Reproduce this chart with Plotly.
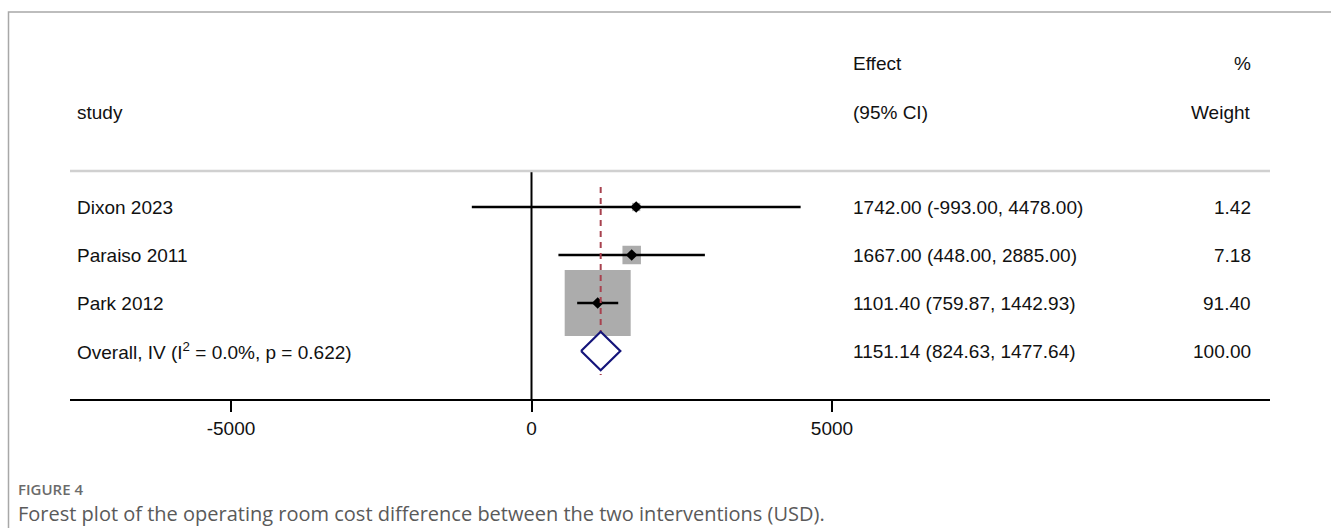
import plotly.graph_objects as go

# Study-level results
studies = ["Dixon 2023", "Paraiso 2011", "Park 2012"]
effects = [1742.00, 1667.00, 1101.40]
ci_low = [-993.00, 448.00, 759.87]
ci_high = [4478.00, 2885.00, 1442.93]
weights = [1.42, 7.18, 91.40]

# Pooled (inverse-variance) estimate
overall_label = "Overall, IV (I<sup>2</sup> = 0.0%, p = 0.622)"
overall_effect = 1151.14
overall_low = 824.63
overall_high = 1477.64
overall_weight = 100.00

tick_vals = [-5000, 0, 5000]
tick_text = ["-5000", "0", "5000"]

W, H = 1331, 528
FONT = "Liberation Sans, Arial, sans-serif"
CAP_FONT = "Open Sans, Noto Sans, sans-serif"
TEXT_COLOR = "#111111"

# pixel geometry of the panel
row0_px, row_step = 207.0, 48.0
axis_x0_px, axis_x1_px = 70.0, 1270.0
zero_px, px_per_unit = 531.5, 0.0601
axis_y_px = 400.0


def px_to_val(px):
    return (px - zero_px) / px_per_unit


def py_to_row(py):
    return (py - row0_px) / row_step


def px(xp):
    return xp / W


def py(yp):
    return 1 - yp / H


fig = go.Figure()

n = len(studies)
rows = list(range(n))
overall_row = n

# weight boxes (area proportional to weight)
box_sizes = [66 * (w / max(weights)) ** 0.5 for w in weights]
fig.add_trace(go.Scatter(
    x=effects, y=rows, mode="markers",
    marker=dict(symbol="square", size=box_sizes, color="#acacac", opacity=1, line=dict(width=0)),
    hoverinfo="skip", showlegend=False))

# confidence intervals
for lo, hi, r in zip(ci_low, ci_high, rows):
    fig.add_trace(go.Scatter(
        x=[lo, hi], y=[r, r], mode="lines",
        line=dict(color="black", width=2.5), hoverinfo="skip", showlegend=False))

# point estimates
fig.add_trace(go.Scatter(
    x=effects, y=rows, mode="markers",
    marker=dict(symbol="diamond", size=9, color="black"),
    hoverinfo="skip", showlegend=False))

# line of no effect
fig.add_trace(go.Scatter(
    x=[0, 0], y=[py_to_row(171), py_to_row(axis_y_px)], mode="lines",
    line=dict(color="black", width=2), hoverinfo="skip", showlegend=False))

# pooled-effect reference line
fig.add_trace(go.Scatter(
    x=[overall_effect, overall_effect], y=[py_to_row(187), py_to_row(375)], mode="lines",
    line=dict(color="#a8424f", width=2, dash="6px,5px"), hoverinfo="skip", showlegend=False))

# pooled diamond
dh = 0.40
fig.add_trace(go.Scatter(
    x=[overall_low, overall_effect, overall_high, overall_effect, overall_low],
    y=[overall_row, overall_row - dh, overall_row, overall_row + dh, overall_row],
    mode="lines", line=dict(color="#14147a", width=2.2),
    fill="toself", fillcolor="white", hoverinfo="skip", showlegend=False))

annotations = []


def add_text(x_px, yref, yval, text, anchor="left", size=19, color=TEXT_COLOR, family=FONT):
    annotations.append(dict(
        x=px(x_px), xref="paper", y=yval, yref=yref, text=text, showarrow=False,
        xanchor=anchor, yanchor="middle", font=dict(family=family, size=size, color=color)))


LEFT_X, MID_X, RIGHT_X = 75, 851, 1253

# column headers
add_text(LEFT_X, "paper", py(112), "study")
add_text(MID_X, "paper", py(63), "Effect")
add_text(MID_X, "paper", py(112), "(95% CI)")
add_text(RIGHT_X, "paper", py(63), "%", anchor="right")
add_text(RIGHT_X, "paper", py(112), "Weight", anchor="right")

# table rows
for s, e, lo, hi, w, r in zip(studies, effects, ci_low, ci_high, weights, rows):
    add_text(LEFT_X, "y", r, s)
    add_text(MID_X, "y", r, f"{e:.2f} ({lo:.2f}, {hi:.2f})")
    add_text(RIGHT_X, "y", r, f"{w:.2f}", anchor="right")

add_text(LEFT_X, "y", overall_row, overall_label)
add_text(MID_X, "y", overall_row, f"{overall_effect:.2f} ({overall_low:.2f}, {overall_high:.2f})")
add_text(RIGHT_X, "y", overall_row, f"{overall_weight:.2f}", anchor="right")

# caption
annotations.append(dict(
    x=px(16), xref="paper", y=py(489), yref="paper", text="FIGURE 4", showarrow=False,
    xanchor="left", yanchor="middle",
    font=dict(family=CAP_FONT, size=15, color="#6b6b6b", weight=600)))
annotations.append(dict(
    x=px(16), xref="paper", y=py(513), yref="paper",
    text="Forest plot of the operating room cost difference between the two interventions (USD).",
    showarrow=False, xanchor="left", yanchor="middle",
    font=dict(family=CAP_FONT, size=20, color="#5a5a5a")))

shapes = [
    # outer frame
    dict(type="rect", xref="paper", yref="paper", x0=px(8.5), x1=1.02, y0=-0.05, y1=py(12),
         line=dict(color="#a8a8a8", width=1.5), fillcolor="rgba(0,0,0,0)", layer="below"),
    # header separator
    dict(type="line", xref="paper", yref="paper", x0=px(axis_x0_px), x1=px(axis_x1_px),
         y0=py(171), y1=py(171), line=dict(color="#d0d0d0", width=2.5)),
]

fig.update_layout(
    width=W, height=H,
    margin=dict(l=0, r=0, t=0, b=0),
    paper_bgcolor="white", plot_bgcolor="rgba(0,0,0,0)",
    showlegend=False,
    annotations=annotations,
    shapes=shapes,
    xaxis=dict(
        domain=[px(axis_x0_px), px(axis_x1_px)],
        range=[px_to_val(axis_x0_px), px_to_val(axis_x1_px)],
        anchor="free", position=py(axis_y_px),
        showline=True, linecolor="black", linewidth=2.2,
        ticks="outside", ticklen=11, tickwidth=1.8, tickcolor="black",
        tickvals=tick_vals, ticktext=tick_text,
        tickfont=dict(family=FONT, size=19, color=TEXT_COLOR),
        showgrid=False, zeroline=False, fixedrange=True),
    yaxis=dict(
        domain=[0, 1],
        range=[py_to_row(H), py_to_row(0)],
        visible=False, showgrid=False, zeroline=False, fixedrange=True),
)

fig.write_html("out.html")
